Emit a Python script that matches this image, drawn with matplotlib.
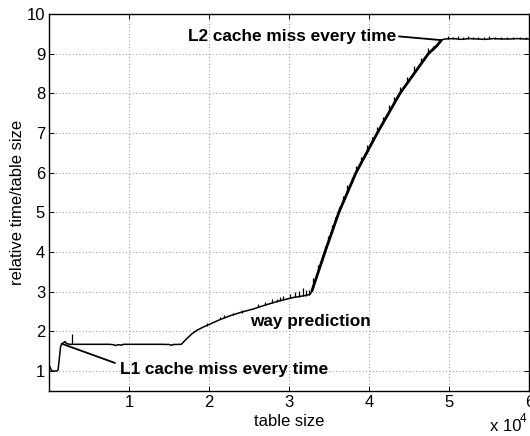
#!/usr/bin/env python3
"""
Relative lookup time vs table size (cache effects)
"""

import matplotlib
matplotlib.use('Agg')
import matplotlib.pyplot as plt

plt.rcParams['font.family'] = ['Liberation Sans', 'DejaVu Sans']

# main curve
table_size = [90, 250, 400, 600, 800, 1000, 1100, 1250, 1400, 1550, 1700, 1850, 1950, 2100, 2300, 2600,
              3000, 5000, 7500, 8000, 8300, 8600, 9000, 9300, 10000, 12000, 14000, 15000, 15300, 15500, 16500,
              17170, 17800, 18420, 19200, 20090, 21300, 22590, 24000, 25500, 27000, 28840, 30500, 32000, 32600,
              32800, 33630, 34460, 35330, 36200, 37270, 38340, 39670, 41000, 42420, 43840, 45610, 47380, 48450, 49050,
              49500, 50500, 51500, 52500, 53500, 54500, 55500, 56500, 57500, 58500, 59500, 60000]
rel_time = [1.10, 1.02, 1.00, 0.99, 1.00, 1.00, 1.03, 1.30, 1.60, 1.68, 1.70, 1.72, 1.74, 1.70, 1.68, 1.67,
            1.67, 1.67, 1.67, 1.66, 1.64, 1.66, 1.65, 1.67, 1.67, 1.67, 1.67, 1.665, 1.645, 1.665, 1.67,
            1.81, 1.93, 2.02, 2.10, 2.18, 2.29, 2.39, 2.48, 2.56, 2.66, 2.77, 2.85, 2.90, 2.93,
            3.00, 3.50, 4.00, 4.50, 5.00, 5.50, 6.00, 6.50, 7.00, 7.50, 8.00, 8.50, 9.00, 9.20, 9.35,
            9.37, 9.38, 9.36, 9.38, 9.37, 9.36, 9.38, 9.37, 9.37, 9.38, 9.37, 9.37]

# range of the steep (L1 -> L2) part, drawn heavier because the raw data is dense there
steep_from, steep_to = 32800, 49050

# noise spikes on top of the curve
spike_x = [2880, 19750, 21340, 21840, 22920, 24050, 26130, 26960, 27800, 28430, 28840, 29250,
           30090, 30710, 31210, 31670, 32090, 32460, 33000,
           33630, 34045, 34460, 34895, 35330, 35765, 36200, 36735, 37270, 37805, 38340, 39005,
           39670, 40335, 41000, 41710, 42420, 43130, 43840, 44725, 45610, 46495, 47380, 47915,
           49800, 50400, 51100, 51700, 52300, 53000, 53600, 54300, 55000, 55700, 56400, 57200, 58000, 58800, 59600]
spike_base = [1.67, 2.13, 2.30, 2.33, 2.40, 2.47, 2.61, 2.66, 2.70, 2.74, 2.77, 2.79,
              2.84, 2.86, 2.87, 2.89, 2.90, 2.92, 3.10,
              3.50, 3.75, 4.00, 4.25, 4.50, 4.75, 5.00, 5.25, 5.50, 5.75, 6.00, 6.25,
              6.50, 6.75, 7.00, 7.25, 7.50, 7.75, 8.00, 8.25, 8.50, 8.75, 9.00, 9.10,
              9.37, 9.38, 9.37, 9.36, 9.38, 9.37, 9.37, 9.36, 9.37, 9.38, 9.37, 9.37, 9.38, 9.37, 9.37]
spike_top = [1.92, 2.20, 2.36, 2.40, 2.45, 2.53, 2.68, 2.73, 2.80, 2.82, 2.87, 2.90,
             2.93, 3.00, 3.02, 3.10, 3.05, 3.05, 3.35,
             3.68, 3.88, 4.15, 4.40, 4.68, 4.88, 5.14, 5.40, 5.70, 5.90, 6.16, 6.40,
             6.70, 6.90, 7.16, 7.40, 7.70, 7.90, 8.16, 8.40, 8.70, 8.90, 9.14, 9.20,
             9.44, 9.43, 9.44, 9.42, 9.44, 9.43, 9.42, 9.43, 9.44, 9.42, 9.43, 9.42, 9.43, 9.42, 9.43]

x_ticks = [10000, 20000, 30000, 40000, 50000, 60000]
x_tick_labels = ['1', '2', '3', '4', '5', '6']
y_ticks = [1, 2, 3, 4, 5, 6, 7, 8, 9, 10]


def create_plot():
    fig = plt.figure(figsize=(5.3, 4.36), dpi=100)
    ax = fig.add_axes([49.3 / 530, 45.3 / 436, 480 / 530, 376.7 / 436])

    ax.plot(table_size, rel_time, color='black', linewidth=1.1, zorder=3)
    steep = [(x, y) for x, y in zip(table_size, rel_time) if steep_from <= x <= steep_to]
    ax.plot([p[0] for p in steep], [p[1] for p in steep], color='black', linewidth=2.0,
            solid_capstyle='butt', zorder=3)
    ax.vlines(spike_x, spike_base, spike_top, color='black', linewidth=0.9, zorder=3)

    ax.set_xlim(0, 60000)
    ax.set_ylim(0.5, 10)
    ax.set_xticks(x_ticks)
    ax.set_xticklabels(x_tick_labels)
    ax.set_yticks(y_ticks)

    ax.grid(True, color='0.45', linestyle=(0, (1, 3)), linewidth=0.6)
    ax.set_axisbelow(True)
    ax.tick_params(direction='in', top=True, right=True, length=3.5, width=0.7,
                   labelsize=12, pad=3)
    for s in ax.spines.values():
        s.set_linewidth(1.0)

    ax.set_xlabel('table size', fontsize=12, labelpad=3)
    ax.set_ylabel('relative time/table size', fontsize=12, labelpad=1)

    # annotations
    bold = dict(fontsize=12.4, fontweight='bold', zorder=5)
    ax.text(8840, 0.92, 'L1 cache miss every time', ha='left', va='baseline', **bold)
    ax.annotate('', xy=(1550, 1.685), xytext=(8210, 1.2),
                arrowprops=dict(arrowstyle='-', color='black', lw=1.3, shrinkA=0, shrinkB=0))
    ax.text(25090, 2.12, 'way prediction', ha='left', va='baseline', **bold)
    ax.text(17370, 9.31, 'L2 cache miss every time', ha='left', va='baseline', **bold)
    ax.annotate('', xy=(49050, 9.34), xytext=(43700, 9.435),
                arrowprops=dict(arrowstyle='-', color='black', lw=1.3, shrinkA=0, shrinkB=0))

    # MATLAB-style exponent label
    fig.text(490 / 530, 5 / 436, 'x 10', fontsize=12, ha='left', va='baseline')
    fig.text(520 / 530, 14 / 436, '4', fontsize=8.5, ha='left', va='baseline')

    fig.savefig('out.png', dpi=100, facecolor='white')


if __name__ == "__main__":
    create_plot()
